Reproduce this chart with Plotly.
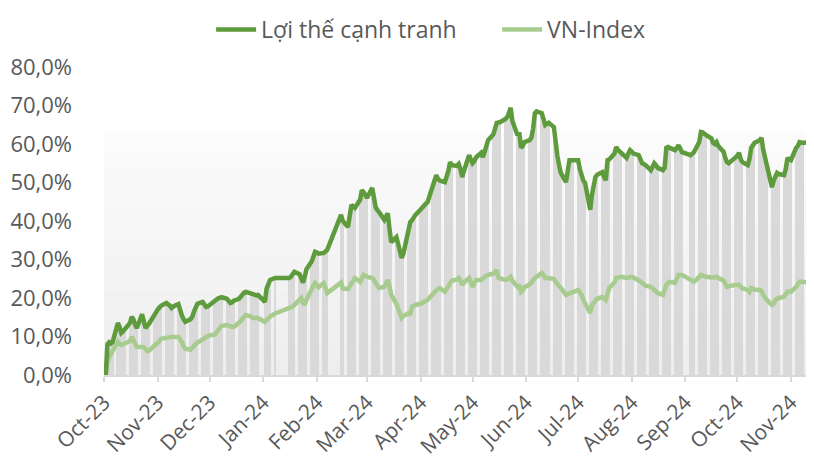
import pandas as pd
import plotly.graph_objects as go

# ---- data ----
series_names = ["Lợi thế cạnh tranh", "VN-Index"]
holidays = ["2024-01-01", "2024-01-09", "2024-01-10", "2024-01-11", "2024-01-12",
            "2024-01-15", "2024-02-08", "2024-02-09", "2024-02-12", "2024-02-13",
            "2024-02-14", "2024-09-02", "2024-09-03"]
dates = pd.bdate_range("2023-10-02", "2024-11-13")
dates = dates[~dates.isin(pd.to_datetime(holidays))]

loi_the = [
    0, 8.0, 8.5, 8.2, 8.6,
    13.5, 12.5, 10.9, 11.3, 11.8,
    13.5, 15.1, 14.5, 13.0, 12.2,
    15.8, 14.0, 12.2, 12.8, 13.3,
    15.5, 16.5, 17.0, 17.5, 18.0,
    18.7, 18.4, 18.0, 17.4, 17.8,
    18.4, 16.4, 15.5, 14.5, 13.8,
    14.5, 15.1, 16.5, 17.5, 18.5,
    19.0, 18.3, 17.7, 17.8, 18.2,
    19.5, 19.6, 19.9, 20.1, 20.2,
    19.8, 19.0, 18.7, 18.9, 19.3,
    19.8, 20.5, 21.0, 21.4, 21.6,
    21.0, 20.8, 20.9, 20.7, 20.8,
    19.0, 22.5, 24.0, 24.7,
    25.2,
    25.2, 25.5, 26.5, 26.8,
    26.2, 25.0, 24.0, 25.5, 27.5,
    29.5, 31.0, 32.0, 31.8, 31.5,
    31.7, 32.3, 32.5,
    41.6, 40.0,
    38.4, 41.0, 44.2, 43.8, 43.4,
    45.5, 48.0, 47.5, 46.5, 46.0,
    48.6, 46.0, 43.6, 42.8, 42.3,
    40.3, 41.0, 42.0, 38.0, 34.5,
    35.8, 34.0, 32.0, 30.4, 31.5,
    38.5, 39.7, 40.2, 41.0, 41.6,
    43.0, 43.6, 44.0, 44.5, 44.9,
    48.6, 50.5, 51.9, 51.0, 50.5,
    50.1, 51.5, 53.0, 55.3, 54.5,
    54.3, 54.8, 53.5, 51.4, 53.0,
    57.1, 56.0, 55.0, 55.5, 56.5,
    57.7, 56.6, 58.0, 59.5, 61.0,
    62.5, 64.0, 65.5, 65.6, 65.7,
    66.5, 67.0, 68.0, 69.4, 66.0,
    62.3, 63.0, 59.0, 59.5, 60.5,
    61.0, 61.6, 64.0, 68.0, 68.5,
    68.0, 66.5, 64.9, 65.2, 65.5,
    64.4, 59.7, 57.0, 54.5, 52.5,
    50.1, 52.5, 55.8, 55.8, 55.8,
    55.8, 53.5, 51.4, 50.5, 49.9,
    42.9, 46.8, 49.0, 51.4, 52.0,
    52.7, 51.5, 50.6, 55.8, 56.0,
    57.5, 59.2, 58.5, 58.0, 57.7,
    56.4, 57.5, 58.4, 58.0, 57.5,
    57.1, 56.0, 55.0, 54.8, 54.5,
    53.2, 54.0, 55.0, 54.5, 53.8,
    53.2, 53.8, 59.0, 59.2, 59.0,
    58.4, 59.0, 59.7, 58.8, 57.9,
    57.1, 57.5, 57.9,
    60.5, 63.1, 63.0, 62.5, 62.3,
    61.5, 60.3, 60.0, 60.5, 59.5,
    58.0, 56.5, 55.3, 55.0, 55.3,
    56.5, 57.0, 57.7, 56.0, 55.3,
    54.5, 56.0, 59.0, 59.5, 60.3,
    61.0, 61.6, 58.5, 56.4, 55.5,
    48.8, 50.5, 52.0, 52.5, 52.2,
    51.9, 53.5, 56.4, 56.0, 55.8,
    59.0, 59.5, 60.5, 60.4, 60.3,
    60.5, 60.0, 59.7,
]

vn_index = [
    0, 3.5, 4.7, 5.5, 6.5,
    8.6, 8.0, 7.8, 8.0, 8.2,
    8.8, 9.9, 9.0, 8.0, 7.3,
    7.3, 7.2, 6.8, 6.2, 6.3,
    7.5, 7.8, 8.3, 8.8, 9.4,
    9.8, 9.9, 9.9, 9.9, 9.9,
    9.9, 9.2, 8.6, 7.5, 6.8,
    6.6, 7.2, 7.5, 8.0, 8.4,
    9.0, 9.5, 9.9, 10.1, 10.3,
    10.5, 11.2, 11.7, 12.2, 12.8,
    13.0, 12.8, 12.5, 12.5, 12.5,
    13.5, 14.0, 14.6, 15.3, 15.6,
    15.2, 14.8, 14.8, 14.8, 14.8,
    13.8, 14.3, 14.8, 15.2,
    16.0,
    17.4, 17.5, 17.8, 18.2,
    19.5, 20.0, 18.8, 18.2, 19.5,
    22.6, 23.2, 23.9, 23.5, 22.8,
    23.9, 22.0, 21.3,
    24.0, 22.5,
    22.3, 23.0, 23.4, 24.5, 25.2,
    24.2, 25.2, 26.0, 25.8, 25.5,
    25.2, 24.8, 23.9, 23.2, 22.6,
    22.9, 23.8, 24.7, 23.0, 20.8,
    18.5, 17.4, 16.0, 14.8, 15.3,
    16.1, 15.6, 17.7, 17.9, 18.2,
    18.5, 18.7, 19.0, 19.3, 19.5,
    21.0, 21.6, 22.0, 22.4, 22.6,
    21.6, 22.3, 23.0, 24.2, 24.5,
    24.8, 25.2, 24.5, 23.4, 24.0,
    25.2, 24.0, 22.9, 23.8, 24.7,
    24.7, 25.2, 25.5, 25.8, 26.0,
    26.3, 26.8, 27.3, 25.2, 25.0,
    24.7, 24.8, 25.2, 25.5, 24.5,
    22.9, 23.4, 21.6, 22.0, 22.8,
    23.5, 24.2, 24.7, 25.2, 25.5,
    26.5, 26.0, 25.2, 25.2, 25.2,
    25.0, 24.2, 23.5, 23.0, 22.6,
    20.8, 21.0, 21.3, 21.5, 21.6,
    22.1, 21.5, 20.8, 19.5, 18.7,
    16.1, 18.2, 18.8, 19.5, 19.8,
    20.3, 20.0, 19.5, 21.0, 22.6,
    24.0, 25.2, 25.3, 25.5, 25.5,
    25.2, 25.3, 25.5, 25.5, 25.3,
    24.7, 24.3, 23.9, 23.5, 23.2,
    22.9, 22.5, 22.1, 21.8, 21.3,
    20.8, 22.5, 23.4, 24.0, 24.2,
    23.9, 25.0, 26.0, 26.0, 26.0,
    24.7, 24.5, 24.2,
    25.5, 26.0, 25.8, 25.5, 25.5,
    25.3, 25.2, 25.3, 25.5, 25.2,
    24.5, 23.8, 22.9, 23.0, 23.2,
    23.4, 23.4, 23.4, 23.0, 22.5,
    22.1, 21.6, 22.6, 22.4, 22.2,
    22.1, 21.8, 20.8, 20.0, 19.5,
    18.2, 18.5, 19.5, 19.8, 20.0,
    20.3, 21.0, 21.6, 21.6, 21.6,
    22.9, 23.5, 24.2, 24.2, 24.2,
    24.0, 23.8, 23.4,
]

n = min(len(dates), len(loi_the), len(vn_index))
dates = dates[:n]
loi_the = loi_the[:n]
vn_index = vn_index[:n]

DARK = "#5e9b3d"
LIGHT = "#a8cc8f"
TXT = "#595959"
FONT = "Open Sans"

fig = go.Figure()

# grey daily columns under the main series (weekends appear as gaps)
fig.add_trace(go.Bar(
    x=dates, y=loi_the, width=86400000 * 0.98,
    marker=dict(color="#d9d9d9", line=dict(width=0)),
    showlegend=False, hoverinfo="skip",
))
fig.add_trace(go.Scatter(
    x=dates, y=vn_index, mode="lines", name=series_names[1],
    line=dict(color=LIGHT, width=4.5), legendrank=2,
))
fig.add_trace(go.Scatter(
    x=dates, y=loi_the, mode="lines", name=series_names[0],
    line=dict(color=DARK, width=4.5), legendrank=1,
))

# plot-area gradient background (light at top, slightly darker at bottom)
shapes = []
bands = 14
top_val = 63.0
for i in range(bands):
    y0 = top_val * i / bands
    y1 = top_val * (i + 1) / bands
    t = i / (bands - 1)
    c = int(round(0xee + (0xfb - 0xee) * t))
    shapes.append(dict(type="rect", xref="paper", yref="y", x0=0, x1=1,
                       y0=y0, y1=y1, fillcolor=f"rgb({c},{c},{c})",
                       line=dict(width=0), layer="below"))

# the page body adds an 8px offset, so the figure is 8px smaller
fig.update_layout(
    width=806, height=449,
    margin=dict(l=96, r=1, t=59, b=82, autoexpand=False),
    paper_bgcolor="white", plot_bgcolor="white",
    separators=",.",
    font=dict(family=FONT, color=TXT, size=20),
    shapes=shapes,
    bargap=0,
    showlegend=True,
    legend=dict(orientation="h", xref="container", yref="container",
                x=0.252, xanchor="left", y=1.0, yanchor="top",
                font=dict(size=23, color=TXT, family=FONT),
                traceorder="normal", itemwidth=40,
                entrywidth=231, entrywidthmode="pixels",
                bgcolor="rgba(0,0,0,0)"),
)

fig.update_xaxes(
    type="date", automargin=False,
    range=["2023-10-01", "2024-11-13 18:00"],
    tick0="2023-10-01", dtick="M1", tickformat="%b-%y",
    tickangle=-45, ticks="outside", ticklen=5, tickcolor="#d9d9d9", tickwidth=1.5,
    showline=True, linecolor="#d9d9d9", linewidth=2,
    showgrid=False, zeroline=False,
    tickfont=dict(size=21, color=TXT, family=FONT),
)
fig.update_yaxes(
    automargin=False,
    range=[0, 80], dtick=10, tickformat=".1f", ticksuffix="%",
    showgrid=False, zeroline=False, showline=False,
    tickfont=dict(size=22, color=TXT, family=FONT),
    ticklabelstandoff=31,
)

fig.write_html("out.html")
